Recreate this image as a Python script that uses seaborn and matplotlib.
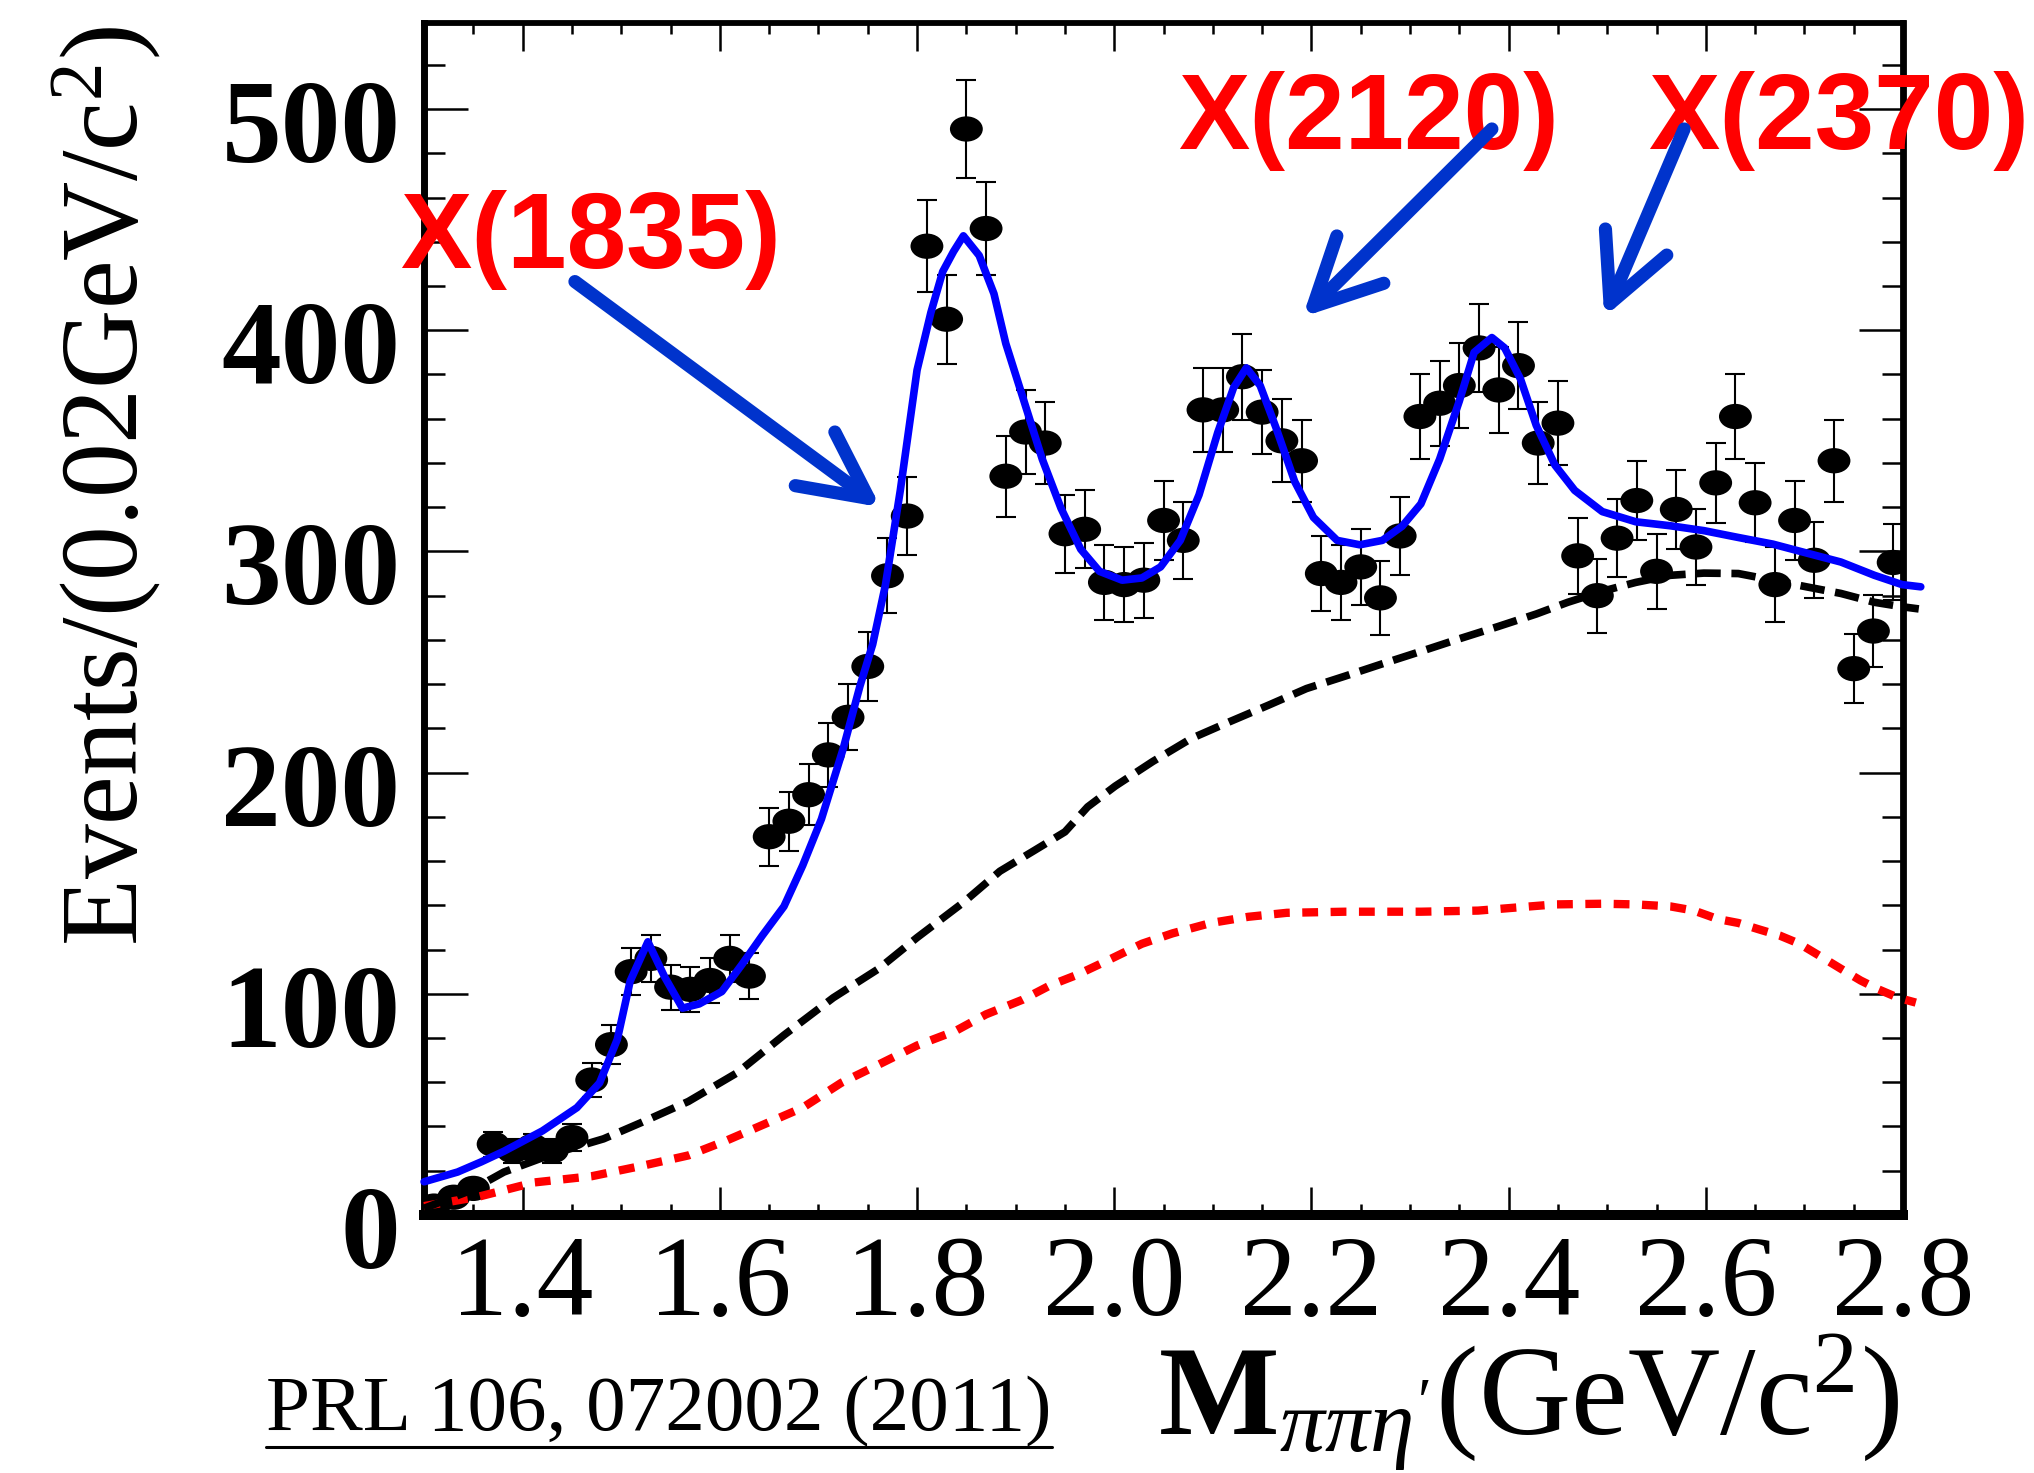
import numpy as np
import matplotlib.pyplot as plt
import seaborn as sns
from matplotlib.path import Path
from matplotlib.ticker import MultipleLocator, FormatStrFormatter
from matplotlib.transforms import ScaledTranslation
from matplotlib.lines import Line2D

# M(pi pi eta') spectrum, 20 MeV bins (bin centres, GeV/c^2)
mass = [1.31, 1.33, 1.35, 1.37, 1.39, 1.41, 1.43, 1.45, 1.47, 1.49,
        1.51, 1.53, 1.55, 1.57, 1.59, 1.61, 1.63, 1.65, 1.67, 1.69,
        1.71, 1.73, 1.75, 1.77, 1.79, 1.81, 1.83, 1.85, 1.87, 1.89,
        1.91, 1.93, 1.95, 1.97, 1.99, 2.01, 2.03, 2.05, 2.07, 2.09,
        2.11, 2.13, 2.15, 2.17, 2.19, 2.21, 2.23, 2.25, 2.27, 2.29,
        2.31, 2.33, 2.35, 2.37, 2.39, 2.41, 2.43, 2.45, 2.47, 2.49,
        2.51, 2.53, 2.55, 2.57, 2.59, 2.61, 2.63, 2.65, 2.67, 2.69,
        2.71, 2.73, 2.75, 2.77, 2.79]
events = [4, 8, 12, 32, 29, 31, 29, 35, 61, 77,
          110, 116, 103, 102, 106, 116, 108, 171, 178, 190,
          208, 225, 248, 289, 316, 438, 405, 491, 446, 334,
          354, 349, 308, 310, 286, 285, 287, 314, 305, 364,
          364, 379, 363, 350, 341, 290, 286, 293, 279, 307,
          361, 367, 375, 392, 373, 384, 349, 358, 298, 280,
          306, 323, 291, 319, 302, 331, 361, 322, 285, 314,
          296, 341, 247, 264, 295]

# total fit (blue)
fit_m = [1.300, 1.334, 1.358, 1.381, 1.420, 1.455, 1.478, 1.496, 1.509, 1.527,
         1.544, 1.562, 1.579, 1.602, 1.622, 1.643, 1.665, 1.684, 1.703, 1.725,
         1.742, 1.755, 1.768, 1.783, 1.800, 1.814, 1.826, 1.837, 1.847, 1.863,
         1.878, 1.890, 1.907, 1.927, 1.946, 1.966, 1.985, 2.008, 2.028, 2.047,
         2.067, 2.086, 2.105, 2.121, 2.134, 2.148, 2.164, 2.183, 2.202, 2.226,
         2.249, 2.272, 2.292, 2.311, 2.330, 2.350, 2.365, 2.383, 2.396, 2.412,
         2.428, 2.447, 2.467, 2.495, 2.529, 2.564, 2.598, 2.633, 2.668, 2.702,
         2.737, 2.771, 2.799, 2.818]
fit_n = [15, 19.4, 24, 28.8, 38, 48.5, 59.7, 79.4, 105.7, 123.5,
         107.6, 93.5, 95.4, 101, 113, 126.3, 139.5, 158, 179, 210.7,
         239, 258, 285, 327.6, 382, 408, 426.5, 435.6, 442.7, 433.8,
         416.5, 394, 370, 341.7, 319.5, 301, 291, 287, 288, 293,
         305, 325.6, 353.8, 374, 383, 375, 356, 331.6, 315.4, 305,
         303, 305, 311.4, 321.5, 341.7, 368, 390, 396.7, 392, 378,
         357, 339, 327.6, 318, 313.4, 311.6, 309.4, 306.3, 303.3, 299.3,
         295.2, 289.2, 285, 284]

# background (black dashed)
bkg_m = [1.300, 1.347, 1.381, 1.432, 1.482, 1.521, 1.568, 1.618, 1.665, 1.715,
         1.761, 1.800, 1.847, 1.884, 1.919, 1.950, 1.973, 2.001, 2.039, 2.078,
         2.117, 2.156, 2.195, 2.234, 2.272, 2.311, 2.350, 2.389, 2.428, 2.460,
         2.495, 2.529, 2.564, 2.598, 2.633, 2.668, 2.702, 2.737, 2.771, 2.799,
         2.816]
bkg_n = [3, 11, 19.4, 27.8, 34.4, 41.9, 51.3, 64.4, 81.3, 98.2,
         111.3, 125.4, 141.3, 155.4, 164.8, 173.2, 184.5, 193.9, 205, 215.4,
         223, 230.4, 238, 243.6, 249.2, 254.8, 260.5, 266, 271.7, 277,
         282, 286, 289.2, 290.2, 290, 287, 284, 281, 277, 275,
         274]

# second background component (red dotted)
red_m = [1.300, 1.354, 1.412, 1.470, 1.521, 1.568, 1.606, 1.645, 1.684, 1.723,
         1.762, 1.800, 1.839, 1.870, 1.907, 1.935, 1.962, 1.993, 2.028, 2.059,
         2.098, 2.136, 2.175, 2.234, 2.311, 2.369, 2.408, 2.447, 2.495, 2.529,
         2.564, 2.588, 2.612, 2.633, 2.654, 2.675, 2.695, 2.716, 2.737, 2.757,
         2.775, 2.795, 2.813]
red_n = [4, 8.1, 14.7, 17.5, 22.2, 26.9, 33.5, 41, 48.5, 59.7,
         68.2, 76.6, 83.2, 90.7, 97.3, 103.8, 108.5, 115, 122.6, 127.3,
         132, 134.8, 136.6, 137.1, 137.1, 137.6, 139, 140.4, 140.7, 140.4,
         139.5, 137.6, 133.8, 132, 129.1, 126.3, 122.6, 117, 111.3, 106,
         102, 98.2, 96]

# labels and arrows: (text, text pos, arrow tail, arrow head)
states = ["X(1835)", "X(2120)", "X(2370)"]
label_pos = [(1.469, 428), (2.258, 482), (2.735, 482)]
arrow_tail = [(1.453, 422), (2.383, 491), (2.578, 491)]
arrow_head = [(1.763, 320), (2.191, 406), (2.497, 406)]

y_ticks = [0, 100, 200, 300, 400, 500]

sns.set_theme(style="ticks", rc={"text.color": "black", "axes.labelcolor": "black",
                                  "xtick.color": "black", "ytick.color": "black",
                                  "axes.edgecolor": "black"})
plt.rcParams["font.family"] = ["Liberation Serif", "DejaVu Serif"]
plt.rcParams["mathtext.fontset"] = "custom"
plt.rcParams["mathtext.rm"] = "Liberation Serif"
plt.rcParams["mathtext.it"] = "Liberation Serif:italic"
plt.rcParams["mathtext.bf"] = "Liberation Serif:bold"

fig = plt.figure(figsize=(20.34, 14.73), dpi=100)
ax = fig.add_axes([0.2085, 0.1752, 0.7271, 0.8093])

# data points with Poisson errors
err = np.sqrt(events)
ax.errorbar(mass, events, yerr=err, fmt="none", ecolor="black",
            elinewidth=1.5, capsize=7, capthick=1.5, zorder=2)
circ = Path.unit_circle()
ellipse = Path(circ.vertices * [1.3, 1.0], circ.codes)
sns.scatterplot(x=mass, y=events, marker=ellipse, s=560, color="black",
                edgecolor="none", linewidth=0, ax=ax, zorder=3, legend=False)

# fit curves
sns.lineplot(x=red_m, y=red_n, ax=ax, color="red", lw=6,
             linestyle=(0, (1.9, 1.5)), errorbar=None, clip_on=False, zorder=4)
sns.lineplot(x=bkg_m, y=bkg_n, ax=ax, color="black", lw=5.5,
             linestyle=(0, (3.2, 1.4)), errorbar=None, clip_on=False, zorder=4)
sns.lineplot(x=fit_m, y=fit_n, ax=ax, color="blue", lw=5.5,
             errorbar=None, clip_on=False, zorder=5)

for name, (tx, ty), tail, head in zip(states, label_pos, arrow_tail, arrow_head):
    ax.text(tx, ty, name, color="red", fontsize=77, fontweight="bold",
            family=["Liberation Sans", "DejaVu Sans"], ha="center", va="baseline", zorder=6)
    ax.annotate("", xy=head, xytext=tail, xycoords="data", annotation_clip=False,
                arrowprops=dict(arrowstyle="->,head_length=48,head_width=24",
                                mutation_scale=1, lw=9.5, color="#0033cc",
                                shrinkA=0, shrinkB=0), zorder=7)

ax.set_xlim(1.3, 2.8)
ax.set_ylim(0, 539)
ax.set_xlabel("")
ax.set_ylabel("")

ax.xaxis.set_major_locator(MultipleLocator(0.2))
ax.xaxis.set_minor_locator(MultipleLocator(0.05))
ax.xaxis.set_major_formatter(FormatStrFormatter("%.1f"))
ax.set_yticks(y_ticks)
ax.set_yticklabels([str(v) for v in y_ticks], fontweight="bold", fontsize=86)
ax.yaxis.set_minor_locator(MultipleLocator(20))

ax.tick_params(axis="x", which="major", direction="in", length=20, width=1.8,
               top=True, bottom=True, pad=15, labelsize=82)
ax.tick_params(axis="x", which="minor", direction="in", length=8, width=1.8,
               top=True, bottom=True)
ax.tick_params(axis="y", which="major", direction="in", length=32, width=1.8,
               left=True, right=True, pad=17)
ax.tick_params(axis="y", which="minor", direction="in", length=15, width=1.8,
               left=True, right=True)

for side, w in [("top", 4.2), ("right", 4.9), ("left", 5.0), ("bottom", 7.2)]:
    ax.spines[side].set_linewidth(w)
    ax.spines[side].set_color("black")

shift = ScaledTranslation(0, -0.12, fig.dpi_scale_trans)
for lbl in ax.get_yticklabels():
    lbl.set_transform(lbl.get_transform() + shift)

fig.text(0.052, 0.982, "Events/(0.02GeV/c$^{2}$)", rotation=90,
         ha="center", va="top", fontsize=79)
fig.text(0.934, 0.0265, r"$\mathbf{M}_{\pi\pi\eta'}$(GeV/c$^{2}$)",
         ha="right", va="baseline", fontsize=92)
ref = fig.text(0.1308, 0.0292, "PRL 106, 072002 (2011)", ha="left",
               va="baseline", fontsize=57)

# underline the reference
fig.canvas.draw()
bb = ref.get_window_extent()
W, H = fig.bbox.width, fig.bbox.height
fig.add_artist(Line2D([bb.x0 / W, bb.x1 / W], [0.0177, 0.0177],
                      color="black", lw=2.2, transform=fig.transFigure))

fig.savefig("out.png", dpi=100)
